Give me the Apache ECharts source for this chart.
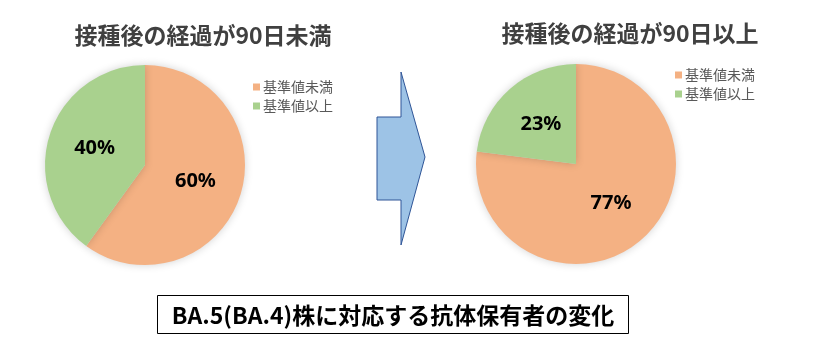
<!DOCTYPE html>
<html>
<head>
<meta charset="utf-8">
<script src="https://cdn.jsdelivr.net/npm/echarts@6/dist/echarts.min.js"></script>
<style>
html,body{margin:0;padding:0;background:#fff;}
#chart{width:823px;height:343px;}
</style>
</head>
<body>
<div id="chart"></div>
<script>
const categories = ['基準値未満', '基準値以上'];
const before90Values = [60, 40];
const after90Values = [77, 23];
const chartTitles = ['接種後の経過が90日未満', '接種後の経過が90日以上'];
const captionText = 'BA.5(BA.4)株に対応する抗体保有者の変化';
const sliceColors = ['#F4B183', '#A9D18E'];

const FONT = '"Noto Sans CJK JP", "Noto Sans", sans-serif';

function pieSeries(values, center) {
  return {
    type: 'pie',
    center: center,
    radius: 100,
    startAngle: 90,
    clockwise: true,
    silent: true,
    animation: false,
    itemStyle: { shadowBlur: 8, shadowColor: 'rgba(0,0,0,0.18)' },
    label: {
      show: true,
      position: 'inside',
      formatter: p => p.value + '%',
      color: '#000',
      fontSize: 20,
      fontWeight: 'bold',
      fontFamily: '"Noto Sans", "Noto Sans CJK JP", sans-serif'
    },
    labelLine: { show: false },
    emphasis: { disabled: true },
    data: categories.map((c, i) => ({ name: c, value: values[i], itemStyle: { color: sliceColors[i] } }))
  };
}

function legend(left, top) {
  return {
    data: categories,
    orient: 'vertical',
    left: left,
    top: top,
    icon: 'rect',
    itemWidth: 7,
    itemHeight: 7,
    itemGap: 5,
    padding: 0,
    selectedMode: false,
    textStyle: { fontSize: 14, color: '#595959', fontFamily: FONT, padding: [0, 0, 0, -2] }
  };
}

const chart = echarts.init(document.getElementById('chart'), null, { renderer: 'canvas' });
chart.setOption({
  backgroundColor: '#fff',
  animation: false,
  title: [
    { text: chartTitles[0], left: 203, top: 24, textAlign: 'center', padding: 0,
      textStyle: { fontSize: 23, fontWeight: 'bold', color: '#404040', fontFamily: FONT } },
    { text: chartTitles[1], left: 630, top: 22, textAlign: 'center', padding: 0,
      textStyle: { fontSize: 23, fontWeight: 'bold', color: '#404040', fontFamily: FONT } }
  ],
  legend: [legend(253, 80), legend(675, 68)],
  series: [
    pieSeries(before90Values, [145, 165]),
    pieSeries(after90Values, [576, 164])
  ],
  graphic: [
    {
      type: 'polygon',
      shape: { points: [[377,117],[401,117],[401,72],[425,157],[401,245],[401,200],[377,200]] },
      style: { fill: '#9DC3E6', stroke: '#2F5597', lineWidth: 1 },
      silent: true
    },
    {
      type: 'rect',
      shape: { x: 157.5, y: 295.5, width: 471, height: 38 },
      style: { fill: '#fff', stroke: '#000', lineWidth: 1 },
      silent: true
    },
    {
      type: 'text',
      x: 393, y: 315,
      style: { text: captionText, align: 'center', verticalAlign: 'middle',
        fontSize: 23, fontWeight: 'bold', fill: '#000', fontFamily: FONT },
      silent: true
    }
  ]
});
</script>
</body>
</html>
